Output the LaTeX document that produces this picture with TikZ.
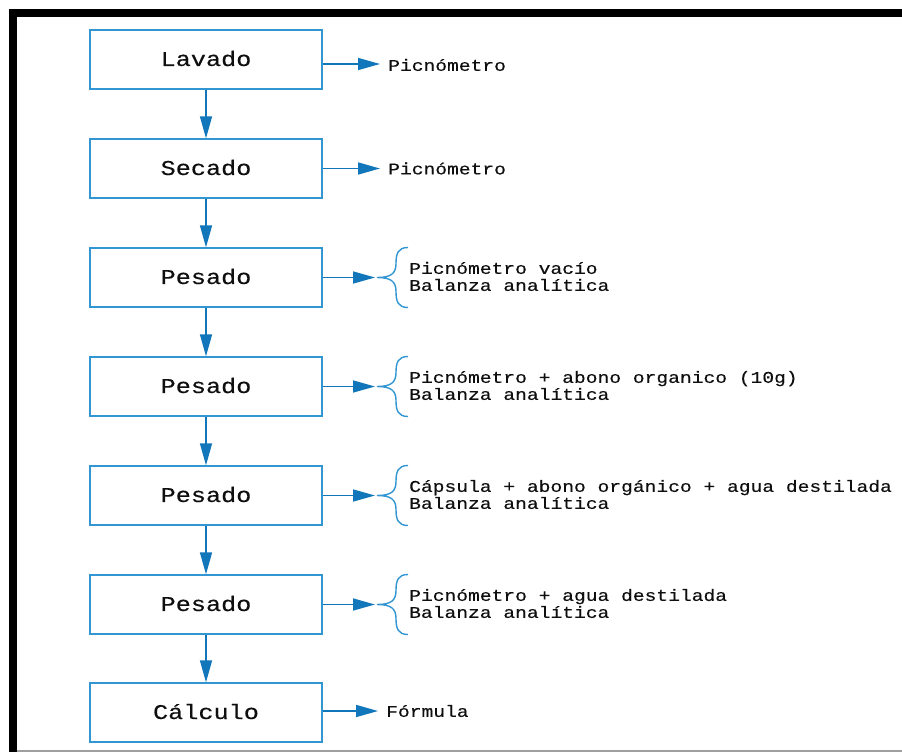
\documentclass[tikz,border=0pt]{standalone}
\usepackage{fontspec}
\usetikzlibrary{arrows.meta}
\newfontfamily\monof[FakeStretch=1.2,FakeBold=0.3]{Liberation Mono}
\definecolor{boxc}{RGB}{50,150,210}
\definecolor{arrc}{RGB}{18,118,186}
\definecolor{txtc}{RGB}{15,15,15}
\tikzset{
  stepbox/.style={draw=boxc, line width=1.4pt, minimum width=232pt, minimum height=59pt, inner sep=0pt, font=\monof\fontsize{21}{24}\selectfont, text=txtc},
  steptext/.style={inner sep=0pt, font=\monof\fontsize{21}{24}\selectfont, text=txtc},
  arr/.style={draw=arrc, line width=1.6pt, -{Triangle[length=22pt,width=12pt]}},
  lbl/.style={inner sep=0pt, font=\monof\fontsize{16.35}{17}\selectfont, text=txtc, align=left},
  mybrace/.pic={\draw[boxc, line width=1.4pt] (31,-30) .. controls (21,-30) and (19,-24) .. (19,-14) .. controls (19,-4) and (14,0) .. (0,0) .. controls (14,0) and (19,4) .. (19,14) .. controls (19,24) and (21,30) .. (31,30);}
}
\begin{document}
\begin{tikzpicture}[x=1pt,y=-1pt]
\useasboundingbox (0,0) rectangle (902,752);
\fill[white] (0,0) rectangle (902,752);
% frame
\fill[black] (9,9) rectangle (902,17);
\fill[black] (9,9) rectangle (17,752);
\fill[gray!75] (17,749.5) rectangle (902,752);
% boxes
\foreach \n/\yy/\txt in {1/59.5/Lavado, 2/168.5/Secado, 3/277.5/Pesado, 4/386.5/Pesado, 5/495.5/Pesado, 6/604.5/Pesado, 7/712.5/Cálculo}{
  \node[stepbox] (b\n) at (206,\yy) {};
  \node[steptext] (s\n) at (206,\yy-1) {\txt};
}
% vertical arrows
\draw[arr] (b1) -- (b2);
\draw[arr] (b2) -- (b3);
\draw[arr] (b3) -- (b4);
\draw[arr] (b4) -- (b5);
\draw[arr] (b5) -- (b6);
\draw[arr] (b6) -- (b7);
% single-line labels
\node[lbl, anchor=west] (t1) at (388,65) {Picnómetro};
\coordinate (a1) at (380,64);
\draw[arr] (a1 -| b1.east) -- (a1);
\node[lbl, anchor=west] (t2) at (388,168.5) {Picnómetro};
\coordinate (a2) at (380,168.5);
\draw[arr] (a2 -| b2.east) -- (a2);
\node[lbl, anchor=west] (t7) at (386,711) {Fórmula};
\coordinate (a7) at (378,711);
\draw[arr] (a7 -| b7.east) -- (a7);
% brace labels
\foreach \n/\yy/\txt in {3/277.5/{Picnómetro vacío\\Balanza analítica},
                          4/386.5/{Picnómetro + abono organico (10g)\\Balanza analítica},
                          5/495.5/{Cápsula + abono orgánico + agua destilada\\Balanza analítica},
                          6/604.5/{Picnómetro + agua destilada\\Balanza analítica}}{
  \coordinate (c\n) at (375,\yy);
  \draw[arr] (c\n -| b\n.east) -- (c\n);
  \pic at (377,\yy) {mybrace};
  \node[lbl, anchor=west] (t\n) at (409,\yy-1) {\txt};
}
\end{tikzpicture}
\end{document}
